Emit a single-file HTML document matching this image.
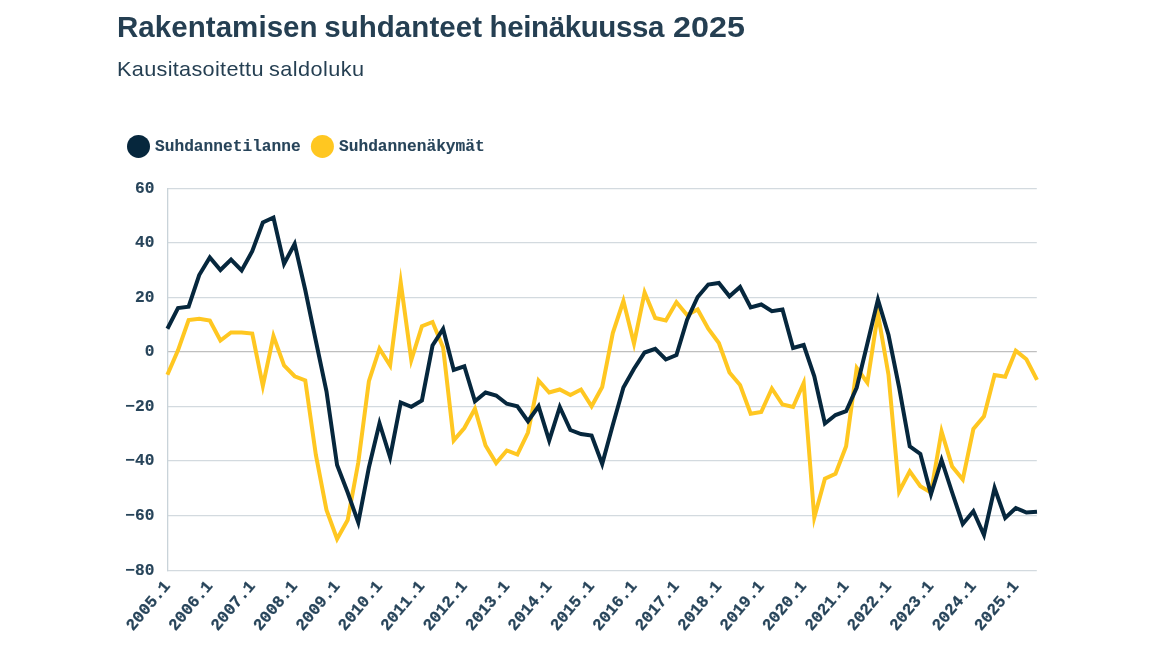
<!DOCTYPE html>
<html lang="fi"><head><meta charset="utf-8"><title>Rakentamisen suhdanteet</title>
<style>
html,body{margin:0;padding:0;background:#fff;}
body{width:1155px;height:648px;overflow:hidden;position:relative;font-family:"Liberation Sans",sans-serif;color:#253f52;}
h1{position:absolute;left:117px;top:8.5px;margin:0;font-size:29.5px;line-height:36px;font-weight:700;letter-spacing:0.05px;white-space:nowrap;transform-origin:0 50%;transform:scaleX(1.0);}
p.sub{position:absolute;left:117px;top:55.6px;margin:0;font-size:21px;line-height:26px;white-space:nowrap;letter-spacing:0.3px;transform-origin:0 50%;transform:scaleX(1.032);}
h1 .w2{margin-left:-1.7px;}
h1 .w3{margin-left:-0.8px;letter-spacing:-0.38px;}
h1 .w4{margin-left:0.8px;display:inline-block;transform-origin:0 50%;transform:scaleX(1.095);}
p.sub .s2{margin-left:-1px;letter-spacing:0.4px;}
svg .xl text{font-size:16.4px;stroke-width:0.25px;}
svg{position:absolute;left:0;top:0;}
svg text{font-family:"Liberation Mono",monospace;font-weight:700;font-size:16.2px;fill:#27445a;stroke:#27445a;stroke-width:0.12px;}
</style></head><body>
<h1>Rakentamisen <span class="w2">suhdanteet</span> <span class="w3">heinäkuussa</span> <span class="w4">2025</span></h1>
<p class="sub">Kausitasoitettu <span class="s2">saldoluku</span></p>
<svg width="1155" height="648" viewBox="0 0 1155 648">
<g>
<rect x="167.0" y="188" width="869.8" height="1.25" fill="#d3dadf"/>
<rect x="167.0" y="242" width="869.8" height="1.25" fill="#d3dadf"/>
<rect x="167.0" y="297" width="869.8" height="1.25" fill="#d3dadf"/>
<rect x="167.0" y="351" width="869.8" height="1.25" fill="#bfbfbf"/>
<rect x="167.0" y="406" width="869.8" height="1.25" fill="#d3dadf"/>
<rect x="167.0" y="460" width="869.8" height="1.25" fill="#d3dadf"/>
<rect x="167.0" y="515" width="869.8" height="1.25" fill="#d3dadf"/>
<rect x="167.0" y="570" width="869.8" height="1.25" fill="#d3dadf"/>
<rect x="167.0" y="188" width="1.3" height="383.25" fill="#c9d3d9"/>

</g>
<g>
<text x="154.4" y="193" text-anchor="end">60</text>
<text x="154.4" y="247" text-anchor="end">40</text>
<text x="154.4" y="302" text-anchor="end">20</text>
<text x="154.4" y="356" text-anchor="end">0</text>
<text x="154.4" y="411" text-anchor="end">−20</text>
<text x="154.4" y="465" text-anchor="end">−40</text>
<text x="154.4" y="520" text-anchor="end">−60</text>
<text x="154.4" y="575" text-anchor="end">−80</text>
</g>
<g class="xl">
<text transform="translate(170.90,586.2) rotate(-50)" text-anchor="end">2005.1</text>
<text transform="translate(213.32,586.2) rotate(-50)" text-anchor="end">2006.1</text>
<text transform="translate(255.74,586.2) rotate(-50)" text-anchor="end">2007.1</text>
<text transform="translate(298.16,586.2) rotate(-50)" text-anchor="end">2008.1</text>
<text transform="translate(340.58,586.2) rotate(-50)" text-anchor="end">2009.1</text>
<text transform="translate(383.00,586.2) rotate(-50)" text-anchor="end">2010.1</text>
<text transform="translate(425.42,586.2) rotate(-50)" text-anchor="end">2011.1</text>
<text transform="translate(467.84,586.2) rotate(-50)" text-anchor="end">2012.1</text>
<text transform="translate(510.26,586.2) rotate(-50)" text-anchor="end">2013.1</text>
<text transform="translate(552.68,586.2) rotate(-50)" text-anchor="end">2014.1</text>
<text transform="translate(595.10,586.2) rotate(-50)" text-anchor="end">2015.1</text>
<text transform="translate(637.51,586.2) rotate(-50)" text-anchor="end">2016.1</text>
<text transform="translate(679.93,586.2) rotate(-50)" text-anchor="end">2017.1</text>
<text transform="translate(722.35,586.2) rotate(-50)" text-anchor="end">2018.1</text>
<text transform="translate(764.77,586.2) rotate(-50)" text-anchor="end">2019.1</text>
<text transform="translate(807.19,586.2) rotate(-50)" text-anchor="end">2020.1</text>
<text transform="translate(849.61,586.2) rotate(-50)" text-anchor="end">2021.1</text>
<text transform="translate(892.03,586.2) rotate(-50)" text-anchor="end">2022.1</text>
<text transform="translate(934.45,586.2) rotate(-50)" text-anchor="end">2023.1</text>
<text transform="translate(976.87,586.2) rotate(-50)" text-anchor="end">2024.1</text>
<text transform="translate(1019.29,586.2) rotate(-50)" text-anchor="end">2025.1</text>
</g>
<polyline fill="none" stroke="#ffc721" stroke-width="4.0" stroke-linejoin="miter" stroke-miterlimit="10" points="167.40,374.80 178.00,350.30 188.61,320.00 199.21,318.75 209.82,320.50 220.42,340.50 231.03,332.50 241.63,332.50 252.24,333.50 262.84,386.00 273.45,336.00 284.05,365.50 294.66,376.25 305.26,380.50 315.87,455.00 326.47,510.00 337.08,539.00 347.68,520.00 358.29,462.50 368.89,381.25 379.50,348.75 390.10,365.50 400.71,282.30 411.31,360.00 421.92,326.25 432.52,322.00 443.13,347.50 453.73,440.40 464.34,428.00 474.94,408.75 485.55,445.50 496.15,463.00 506.76,450.50 517.36,454.50 527.97,432.50 538.57,380.50 549.18,392.50 559.78,389.50 570.39,395.00 580.99,389.50 591.60,406.25 602.20,387.00 612.80,333.00 623.41,301.00 634.01,343.50 644.62,292.50 655.22,318.00 665.83,320.50 676.43,302.20 687.04,315.00 697.64,309.50 708.25,328.75 718.85,343.00 729.46,372.50 740.06,385.00 750.67,413.75 761.27,412.00 771.88,388.50 782.48,404.50 793.09,407.00 803.69,383.00 814.30,517.50 824.90,478.75 835.51,473.75 846.11,446.25 856.72,368.00 867.32,382.70 877.93,313.75 888.53,375.00 899.14,491.50 909.74,471.25 920.35,486.25 930.95,492.50 941.56,431.50 952.16,466.50 962.77,479.50 973.37,429.00 983.98,416.25 994.58,375.00 1005.19,376.75 1015.79,350.75 1026.40,359.25 1037.00,379.90"/>
<polyline fill="none" stroke="#06273d" stroke-width="4.0" stroke-linejoin="miter" stroke-miterlimit="10" points="167.40,328.75 178.00,308.00 188.61,306.75 199.21,275.00 209.82,257.50 220.42,270.00 231.03,259.50 241.63,270.50 252.24,251.25 262.84,222.50 273.45,217.50 284.05,263.75 294.66,244.00 305.26,290.00 315.87,341.00 326.47,391.25 337.08,465.00 347.68,492.50 358.29,522.50 368.89,467.50 379.50,423.20 390.10,457.25 400.71,402.50 411.31,406.75 421.92,400.50 432.52,345.50 443.13,329.00 453.73,370.00 464.34,366.25 474.94,401.25 485.55,392.50 496.15,395.50 506.76,403.75 517.36,406.25 527.97,421.25 538.57,406.25 549.18,440.50 559.78,407.00 570.39,430.00 580.99,434.00 591.60,435.50 602.20,464.00 612.80,425.00 623.41,387.50 634.01,368.75 644.62,352.50 655.22,348.75 665.83,359.50 676.43,355.00 687.04,320.00 697.64,297.00 708.25,284.50 718.85,283.00 729.46,296.25 740.06,287.00 750.67,307.50 761.27,304.50 771.88,311.25 782.48,309.50 793.09,348.00 803.69,345.00 814.30,376.25 824.90,423.50 835.51,415.00 846.11,411.25 856.72,387.50 867.32,343.75 877.93,299.60 888.53,335.00 899.14,387.50 909.74,446.25 920.35,454.00 930.95,494.30 941.56,460.00 952.16,492.50 962.77,524.00 973.37,511.25 983.98,535.00 994.58,488.00 1005.19,518.00 1015.79,508.00 1026.40,512.50 1037.00,511.75"/>
<circle cx="138.5" cy="146.4" r="11.5" fill="#06273d"/>
<text x="155" y="151">Suhdannetilanne</text>
<circle cx="322.4" cy="146.4" r="11.5" fill="#ffc721"/>
<text x="339" y="151">Suhdannenäkymät</text>
</svg>
</body></html>
